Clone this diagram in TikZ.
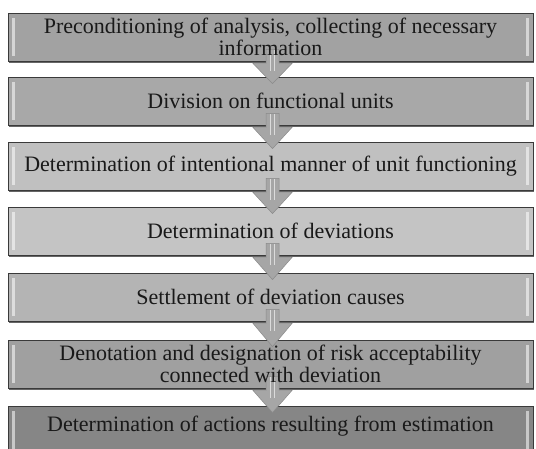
\documentclass[tikz,border=0pt]{standalone}
\usepackage{fontspec}
\setmainfont{Liberation Serif}
\usetikzlibrary{calc,shadows}
\definecolor{c1}{HTML}{A2A2A2}
\definecolor{c2}{HTML}{A8A8A8}
\definecolor{c3}{HTML}{C0C0C0}
\definecolor{c4}{HTML}{C4C4C4}
\definecolor{c5}{HTML}{B4B4B4}
\definecolor{c6}{HTML}{A0A0A0}
\definecolor{c7}{HTML}{868686}
\definecolor{edge}{HTML}{3A3A3A}
\definecolor{arrowfill}{HTML}{A6A6A6}
\definecolor{arrowedge}{HTML}{8A8A8A}
\tikzset{
  boxshape/.style={minimum width=525pt, minimum height=48pt, inner sep=0pt,
    draw=edge, line width=0.8pt,
    drop shadow={shadow xshift=1pt, shadow yshift=-2pt, fill=black!60, opacity=1}},
  boxtext/.style={font=\fontsize{22}{22}\selectfont, text=black!90, align=center, inner sep=0pt},
  flowarrow/.style={fill=arrowfill, draw=arrowedge, line width=0.5pt, line join=miter},
  bevel/.style={fill=white, opacity=0.55},
  stripe/.style={draw=white, opacity=0.6, line width=1.3pt}
}
\begin{document}
\begin{tikzpicture}[x=1pt, y=-1pt]
\clip (0,0) rectangle (536,448);
\fill[white] (0,0) rectangle (536,448);
% boxes
\node[boxshape, fill=c1] (b1) at (270.5,37) {};
\node[boxshape, fill=c2] (b2) at (270.5,101) {};
\node[boxshape, fill=c3] (b3) at (270.5,166) {};
\node[boxshape, fill=c4] (b4) at (270.5,231) {};
\node[boxshape, fill=c5] (b5) at (270.5,297) {};
\node[boxshape, fill=c6] (b6) at (270.5,364) {};
\node[boxshape, fill=c7] (b7) at (270.5,430) {};
% bevel strips
\foreach \i in {1,...,7}{
  \fill[bevel] ($(b\i.north west)+(4,5)$) rectangle ($(b\i.south west)+(7,-5)$);
  \fill[bevel] ($(b\i.north east)+(-7,5)$) rectangle ($(b\i.south east)+(-4,-5)$);
}
% arrows
\foreach \i [evaluate=\i as \j using int(\i+1)] in {1,...,6}{
  \filldraw[flowarrow]
    ($(b\i.south)+(-4.5,-12)$) -- ($(b\i.south)+(8.5,-12)$) --
    ($(b\i.south)+(8.5,2)$) -- ($(b\i.south)+(21.5,2)$) --
    ($(b\j.north)+(2,7)$) --
    ($(b\i.south)+(-17.5,2)$) -- ($(b\i.south)+(-4.5,2)$) -- cycle;
  \draw[stripe] ($(b\i.south)+(0,-11)$) -- ($(b\i.south)+(0,10)$);
  \draw[stripe] ($(b\i.south)+(4,-11)$) -- ($(b\i.south)+(4,10)$);
}
% texts
\node[boxtext] (t1) at (b1.center) {Preconditioning of analysis, collecting of necessary\\information};
\node[boxtext] (t2) at (b2.center) {Division on functional units};
\node[boxtext] (t3) at (b3.center) {Determination of intentional manner of unit functioning};
\node[boxtext] (t4) at (b4.center) {Determination of deviations};
\node[boxtext] (t5) at (b5.center) {Settlement of deviation causes};
\node[boxtext] (t6) at (b6.center) {Denotation and designation of risk acceptability\\connected with deviation};
\node[boxtext] (t7) at ($(b7.center)+(0,-4)$) {Determination of actions resulting from estimation};
\end{tikzpicture}
\end{document}
